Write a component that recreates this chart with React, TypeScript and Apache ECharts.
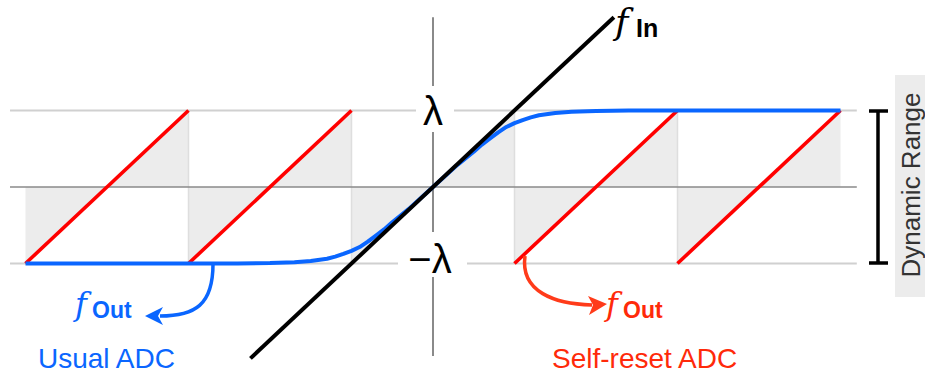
import React, { useEffect, useRef } from 'react';
import * as echarts from 'echarts';

// sawtooth (self-reset ADC) in units of lambda
const sawX = [-5, -3, -3, -1, -1, 1, 1, 3, 3, 5];
const sawY = [-1, 1, -1, 1, -1, 1, -1, 1, -1, 1];
const resetX = [-3, -1, 1, 3];
const redStartX = [-5, -3, 1, 3];
const redEndX = [-3, -1, 3, 5];
const levels = [1, 0, -1];
const levelX = [-5.19, 5.2];
// usual ADC (saturating) curve
const blueX = [-5, -3, -2.4, -2.0, -1.7, -1.5, -1.3, -1.2, -1.1, -1.0, -0.9, -0.8, -0.7, -0.6, -0.5, -0.3, 0, 0.3, 0.5, 0.6, 0.7, 0.8, 0.9, 1.0, 1.1, 1.2, 1.3, 1.5, 1.7, 2.0, 2.4, 3, 5];
const blueY = [-1, -1, -0.999, -0.994, -0.983, -0.968, -0.938, -0.91, -0.875, -0.835, -0.785, -0.715, -0.635, -0.555, -0.46, -0.29, 0, 0.29, 0.46, 0.555, 0.635, 0.715, 0.785, 0.835, 0.875, 0.91, 0.938, 0.968, 0.983, 0.994, 0.999, 1, 1];
// f_In identity line
const inX = [-2.24, 2.22];
const axisY = [2.22, -2.21];

const SANS = 'Liberation Sans';
const SERIF = 'DejaVu Serif';

export default function App() {
  const ref = useRef<HTMLDivElement>(null);
  useEffect(() => {
    if (!ref.current) return;
    const chart = echarts.init(ref.current, undefined, { renderer: 'svg' });
    const line = (data: number[][], color: string, width: number, extra: any = {}) => ({
      type: 'line',
      data,
      symbol: 'none',
      silent: true,
      lineStyle: { color, width, cap: 'butt' },
      ...extra,
    });
    const series: any[] = [];
    series.push({
      type: 'line',
      data: sawX.map((x, i) => [x, sawY[i]]),
      symbol: 'none',
      silent: true,
      lineStyle: { width: 0, opacity: 0 },
      areaStyle: { color: '#ececec', opacity: 1 },
    });
    resetX.forEach((x) => series.push(line([[x, -1], [x, 1]], '#dedede', 1.5)));
    levels.forEach((lv) =>
      series.push(line(levelX.map((x) => [x, lv]), lv === 0 ? '#8a8a8a' : '#d0d0d0', lv === 0 ? 1.5 : 2.2))
    );
    series.push(line(axisY.map((y) => [0, y]), '#8a8a8a', 2));
    redStartX.forEach((x0, i) => series.push(line([[x0, -1], [redEndX[i], 1]], '#ff0000', 3.6)));
    series.push(line(blueX.map((x, i) => [x, blueY[i]]), '#0a66ff', 4, { lineStyle: { color: '#0a66ff', width: 4, join: 'round' } }));
    series.push(line(inX.map((x) => [x, x]), '#000000', 4));

    const blue = '#0a66ff';
    const red = '#ff2a0a';
    const redArrow = '#ff3b1a';
    const Z = 100;
    const graphic: any[] = [
      { type: 'rect', z: Z, shape: { x: 416, y: 86, width: 38, height: 46 }, style: { fill: '#fff' } },
      { type: 'text', z: Z, x: 433, y: 111, style: { text: 'λ', font: `40px "${SANS}"`, fill: '#000', align: 'center', verticalAlign: 'middle' } },
      { type: 'rect', z: Z, shape: { x: 398, y: 232, width: 69, height: 45 }, style: { fill: '#fff' } },
      { type: 'text', z: Z, x: 430, y: 259, style: { text: '−λ', font: `40px "${SANS}"`, fill: '#000', align: 'center', verticalAlign: 'middle' } },
      // f_In
      { type: 'text', z: Z, x: 615, y: 21, style: { text: 'f', font: `italic 36px "${SERIF}"`, fill: '#000', align: 'left', verticalAlign: 'middle' } },
      { type: 'text', z: Z, x: 636, y: 28, style: { text: 'In', font: `bold 25px "${SANS}"`, fill: '#000', align: 'left', verticalAlign: 'middle' } },
      // blue f_Out
      { type: 'text', z: Z, x: 75, y: 304, style: { text: 'f', font: `italic 32px "${SERIF}"`, fill: blue, align: 'left', verticalAlign: 'middle' } },
      { type: 'text', z: Z, x: 92, y: 310, style: { text: 'Out', font: `bold 23px "${SANS}"`, fill: blue, align: 'left', verticalAlign: 'middle' } },
      // red f_Out
      { type: 'text', z: Z, x: 606, y: 304, style: { text: 'f', font: `italic 32px "${SERIF}"`, fill: red, align: 'left', verticalAlign: 'middle' } },
      { type: 'text', z: Z, x: 623, y: 310, style: { text: 'Out', font: `bold 23px "${SANS}"`, fill: red, align: 'left', verticalAlign: 'middle' } },
      // captions
      { type: 'text', z: Z, x: 38, y: 358, style: { text: 'Usual ADC', font: `28px "${SANS}"`, fill: blue, align: 'left', verticalAlign: 'middle' } },
      { type: 'text', z: Z, x: 552, y: 358, style: { text: 'Self-reset ADC', font: `28px "${SANS}"`, fill: red, align: 'left', verticalAlign: 'middle' } },
      // arrows
      { type: 'bezierCurve', z: Z, shape: { x1: 213, y1: 264, cpx1: 213, cpy1: 305, cpx2: 195, cpy2: 316, x2: 160, y2: 316 }, style: { stroke: blue, lineWidth: 3.5, fill: 'none' } },
      { type: 'polygon', z: Z, shape: { points: [[145, 316], [163, 307], [158, 316], [163, 325]] }, style: { fill: blue } },
      { type: 'bezierCurve', z: Z, shape: { x1: 525, y1: 256, cpx1: 520, cpy1: 292, cpx2: 555, cpy2: 304, x2: 592, y2: 305 }, style: { stroke: redArrow, lineWidth: 3.5, fill: 'none' } },
      { type: 'polygon', z: Z, shape: { points: [[607, 304], [588, 296], [593, 305], [589, 315]] }, style: { fill: redArrow } },
      // dynamic range bracket
      { type: 'line', z: Z, shape: { x1: 878, y1: 111, x2: 878, y2: 263 }, style: { stroke: '#000', lineWidth: 3.5 } },
      { type: 'line', z: Z, shape: { x1: 869, y1: 111, x2: 888, y2: 111 }, style: { stroke: '#000', lineWidth: 3.5 } },
      { type: 'line', z: Z, shape: { x1: 869, y1: 263, x2: 888, y2: 263 }, style: { stroke: '#000', lineWidth: 3.5 } },
      { type: 'rect', z: Z, shape: { x: 895, y: 75, width: 32, height: 222 }, style: { fill: '#ececec' } },
      { type: 'text', z: Z, x: 911, y: 185, rotation: Math.PI / 2, style: { text: 'Dynamic Range', font: `26px "${SANS}"`, fill: '#333', align: 'center', verticalAlign: 'middle' } },
    ];

    chart.setOption({
      animation: false,
      grid: { left: 0, right: 0, top: 0, bottom: 0 },
      xAxis: { type: 'value', min: -433 / 81.5, max: (925 - 433) / 81.5, show: false },
      yAxis: { type: 'value', min: -(379 - 187) / 76.5, max: 187 / 76.5, show: false },
      series,
      graphic,
    });
    return () => chart.dispose();
  }, []);
  return <div ref={ref} style={{ position: 'absolute', left: 0, top: 0, width: 925, height: 379, background: '#fff' }} />;
}
